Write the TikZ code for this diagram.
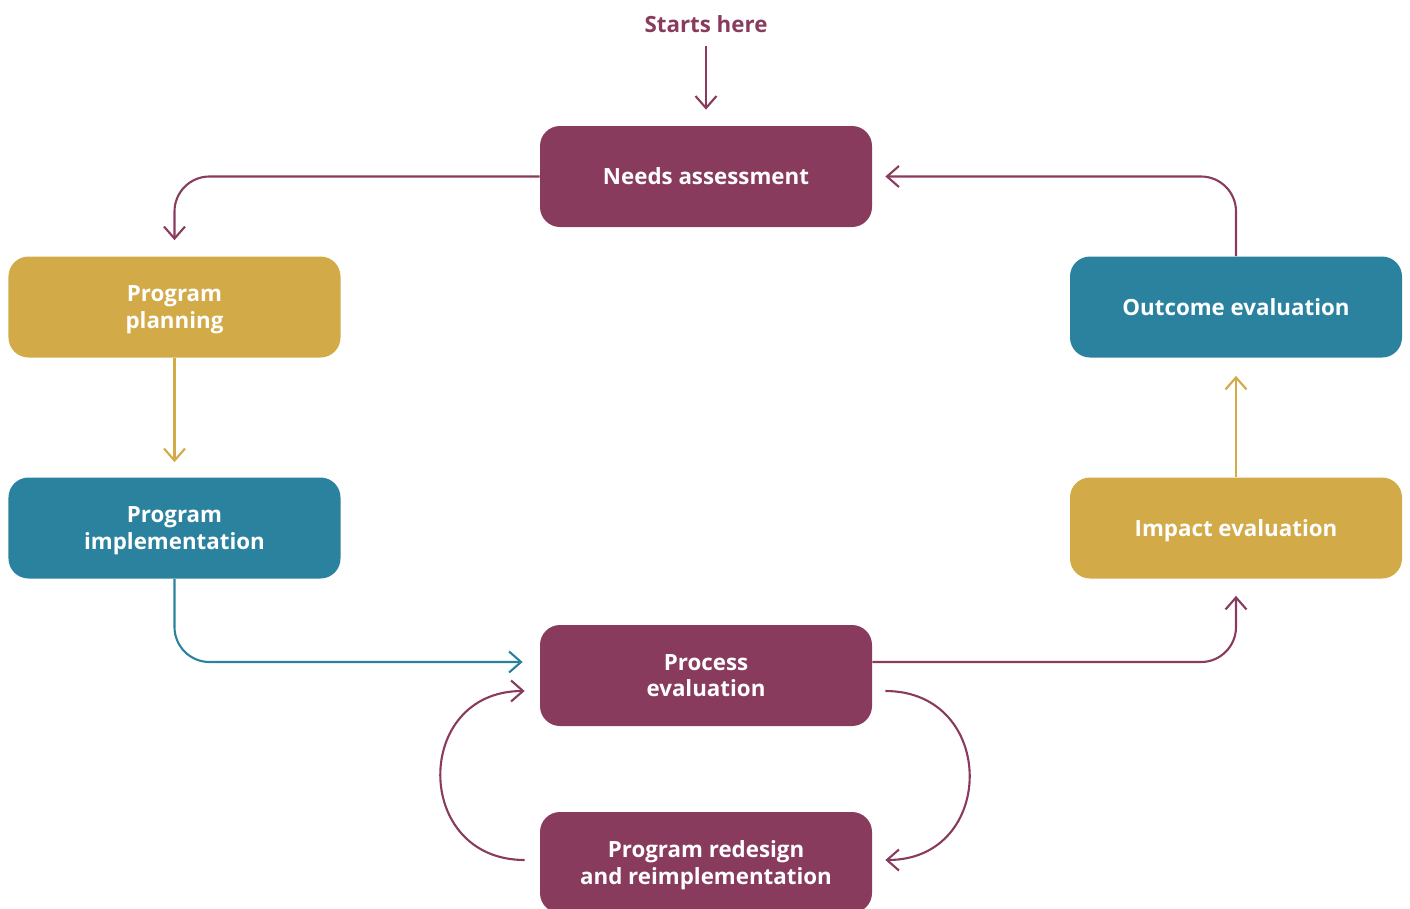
\documentclass[tikz,border=0pt]{standalone}
\usepackage{fontspec}
\setmainfont{Open Sans}
\usetikzlibrary{arrows.meta,calc}
\definecolor{plum}{HTML}{893B5D}
\definecolor{mustard}{HTML}{D2AA48}
\definecolor{petrol}{HTML}{2B829F}

\begin{document}
\begin{tikzpicture}[x=0.2mm,y=-0.2mm,
    box/.style={rounded corners=4mm, minimum width=66.4mm, minimum height=20.2mm,
      text=white, align=center, text depth=0pt, font=\bfseries\fontsize{12.7}{15}\selectfont},
    link/.style={line width=1.2pt, rounded corners=7mm,
      -{Straight Barb[length=2.4mm,width=4.2mm]}}]
  \clip (0,0) rectangle (1410,909);
  \node[text=plum, font=\bfseries\fontsize{12.7}{15}\selectfont] (start) at (706,24) {Starts here};
  \node[box, fill=plum] (needs) at (706,176.5) {Needs assessment};
  \node[box, fill=mustard] (planning) at (174.5,307) {Program\\planning};
  \node[box, fill=petrol] (implementation) at (174.5,528) {Program\\implementation};
  \node[box, fill=plum] (process) at (706,675.5) {Process\\evaluation};
  \node[box, fill=plum] (redesign) at (706,862.5) {Program redesign\\and reimplementation};
  \node[box, fill=mustard] (impact) at (1236,528) {Impact evaluation};
  \node[box, fill=petrol] (outcome) at (1236,307) {Outcome evaluation};
  % the cycle
  \draw[link, plum, shorten <=1.4mm, shorten >=3.2mm] (start.south) -- (needs.north);
  \draw[link, plum, shorten >=3.2mm] (needs.west) -| (planning.north);
  \draw[link, mustard, shorten >=3mm] (planning.south) -- (implementation.north);
  \draw[link, petrol, shorten >=3.4mm] (implementation.south) |- ([yshift=2.7mm]process.west);
  \draw[link, plum, shorten >=3.4mm] ([yshift=2.7mm]process.east) -| (impact.south);
  \draw[link, mustard, shorten >=3.6mm] (impact.north) -- (outcome.south);
  \draw[link, plum, shorten >=2.6mm] (outcome.north) |- (needs.east);
  % redesign loop
  \draw[link, plum] ([xshift=2.6mm,yshift=-3.1mm]process.east) to[out=0, in=0, looseness=1.7] ([xshift=2.6mm,yshift=0.5mm]redesign.east);
  \draw[link, plum] ([xshift=-3mm,yshift=0.5mm]redesign.west) to[out=180, in=180, looseness=1.7] ([xshift=-3mm,yshift=-3.1mm]process.west);
\end{tikzpicture}
\end{document}
